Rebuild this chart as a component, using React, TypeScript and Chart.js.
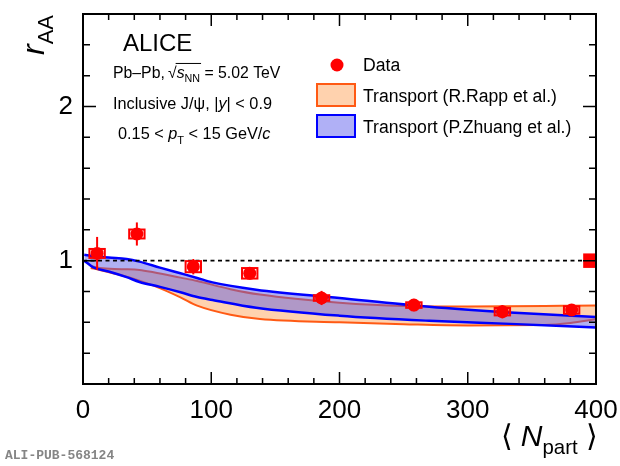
import { useEffect, useRef } from 'react';
import { Chart, registerables } from 'chart.js';

Chart.register(...registerables);

// ALICE inclusive J/psi r_AA vs <Npart>
const dataNpart = [11, 42, 86, 130, 186, 258, 327, 381];
const dataR = [1.047, 1.173, 0.961, 0.918, 0.758, 0.712, 0.669, 0.68];
const dataStat = [0.107, 0.075, 0.05, 0.04, 0.046, 0.04, 0.043, 0.033];
const dataSyst = [0.029, 0.029, 0.036, 0.034, 0.018, 0.018, 0.024, 0.024];

// global (correlated) uncertainty drawn at the right edge
const globalNpart = 395;
const globalUnc = 0.047;

// transport model bands
const rappNpart = [6, 13, 30, 44, 55, 76, 89, 115, 138, 200, 250, 300, 360, 380, 400];
const rappHigh = [0.965, 0.952, 0.945, 0.94, 0.925, 0.89, 0.868, 0.815, 0.78, 0.727, 0.706, 0.703, 0.706, 0.708, 0.71];
const rappLow = [0.953, 0.94, 0.905, 0.87, 0.838, 0.762, 0.708, 0.649, 0.621, 0.6, 0.588, 0.58, 0.582, 0.595, 0.62];

const zhuangNpart = [1, 8, 20, 34, 44, 60, 76, 89, 101, 135, 200, 270, 333, 400];
const zhuangHigh = [1.038, 1.03, 1.02, 1.011, 0.994, 0.955, 0.918, 0.888, 0.859, 0.812, 0.758, 0.701, 0.664, 0.634];
const zhuangLow = [1.0, 0.957, 0.93, 0.893, 0.862, 0.83, 0.795, 0.764, 0.745, 0.695, 0.643, 0.61, 0.59, 0.567];

const unity = 1;

// axes
const xRange = [0, 400];
const yRange = [0.2, 2.6];
const xTickLabels = [0, 100, 200, 300, 400];
const yTickLabels = [1, 2];
const xMinorStep = 20;
const yMinorStep = 0.2;

const FONT = '"Liberation Sans", Arial, Helvetica, sans-serif';
const RED = '#ff0000';
const ORANGE = '#ff5a14';
const ORANGE_FILL = '#ffd2ae';
const BLUE = '#0000ff';
const BLUE_FILL = 'rgba(88, 88, 228, 0.47)';
const BOX_HALF = 6; // in Npart units

type Part = [string, string?];

function drawParts(ctx: CanvasRenderingContext2D, x: number, y: number, parts: Part[], size: number) {
  let cx = x;
  for (const [t, s = ''] of parts) {
    const sub = s.startsWith('sub');
    const it = s === 'i' || s === 'subi';
    const fs = sub ? size * 0.68 : size;
    ctx.font = `${it ? 'italic ' : ''}${fs}px ${FONT}`;
    ctx.fillText(t, cx, sub ? y + size * 0.28 : y);
    cx += ctx.measureText(t).width;
  }
  return cx;
}

function partsWidth(ctx: CanvasRenderingContext2D, parts: Part[], size: number) {
  let w = 0;
  for (const [t, s = ''] of parts) {
    const sub = s.startsWith('sub');
    const it = s === 'i' || s === 'subi';
    ctx.font = `${it ? 'italic ' : ''}${sub ? size * 0.68 : size}px ${FONT}`;
    w += ctx.measureText(t).width;
  }
  return w;
}

const overlay = {
  id: 'overlay',
  afterDatasetsDraw(chart: any) {
    const { ctx, scales: { x, y } } = chart;
    ctx.save();
    ctx.strokeStyle = RED;
    ctx.lineWidth = 2;
    dataNpart.forEach((n, i) => {
      const px = x.getPixelForValue(n);
      ctx.beginPath();
      ctx.moveTo(px, y.getPixelForValue(dataR[i] + dataStat[i]));
      ctx.lineTo(px, y.getPixelForValue(dataR[i] - dataStat[i]));
      ctx.stroke();
      const x0 = x.getPixelForValue(n - BOX_HALF);
      const x1 = x.getPixelForValue(n + BOX_HALF);
      const y0 = y.getPixelForValue(dataR[i] + dataSyst[i]);
      const y1 = y.getPixelForValue(dataR[i] - dataSyst[i]);
      ctx.strokeRect(x0, y0, x1 - x0, y1 - y0);
    });
    ctx.fillStyle = RED;
    const gx0 = x.getPixelForValue(globalNpart - 5);
    const gx1 = x.getPixelForValue(xRange[1]);
    const gy0 = y.getPixelForValue(unity + globalUnc);
    const gy1 = y.getPixelForValue(unity - globalUnc);
    ctx.fillRect(gx0, gy0, gx1 - gx0, gy1 - gy0);
    ctx.restore();
  },
  afterDraw(chart: any) {
    const { ctx, chartArea: a, scales: { x, y } } = chart;
    ctx.save();
    ctx.strokeStyle = '#000';
    ctx.lineWidth = 2;
    ctx.strokeRect(a.left, a.top, a.right - a.left, a.bottom - a.top);
    ctx.lineWidth = 1.5;
    ctx.beginPath();
    for (let v = xRange[0]; v <= xRange[1] + 1e-6; v += xMinorStep) {
      const px = x.getPixelForValue(v);
      const len = xTickLabels.includes(v) ? 12 : 6;
      ctx.moveTo(px, a.bottom);
      ctx.lineTo(px, a.bottom - len);
      ctx.moveTo(px, a.top);
      ctx.lineTo(px, a.top + len);
    }
    for (let k = 0; k <= Math.round((yRange[1] - yRange[0]) / yMinorStep); k++) {
      const v = +(yRange[0] + k * yMinorStep).toFixed(2);
      const py = y.getPixelForValue(v);
      const len = yTickLabels.includes(v) ? 13 : 7;
      ctx.moveTo(a.left, py);
      ctx.lineTo(a.left + len, py);
      ctx.moveTo(a.right, py);
      ctx.lineTo(a.right - len, py);
    }
    ctx.stroke();

    // tick labels
    ctx.fillStyle = '#000';
    ctx.font = `26px ${FONT}`;
    ctx.textAlign = 'center';
    ctx.textBaseline = 'alphabetic';
    xTickLabels.forEach((v) => ctx.fillText(String(v), x.getPixelForValue(v), a.bottom + 34));
    ctx.textAlign = 'right';
    ctx.textBaseline = 'middle';
    yTickLabels.forEach((v) => ctx.fillText(String(v), a.left - 10, y.getPixelForValue(v)));
    ctx.textAlign = 'left';
    ctx.textBaseline = 'alphabetic';

    // x title
    const xt: Part[] = [['\u27e8 '], ['N', 'i'], ['part', 'sub'], [' \u27e9']];
    const w = partsWidth(ctx, xt, 30);
    drawParts(ctx, a.right + 2 - w, a.bottom + 62, xt, 30);

    // y title (rotated)
    ctx.save();
    ctx.translate(44, 55);
    ctx.rotate(-Math.PI / 2);
    drawParts(ctx, 0, 0, [['r', 'i'], ['AA', 'sub']], 32);
    ctx.restore();

    // labels
    ctx.font = `24px ${FONT}`;
    ctx.fillText('ALICE', 123, 51);
    const s1 = 15.8;
    let cx = drawParts(ctx, 113, 78, [['Pb\u2013Pb,\u2009'], ['\u221a']], s1);
    const ox = cx;
    cx = drawParts(ctx, cx, 78, [['s', 'i'], ['NN', 'sub']], s1);
    ctx.lineWidth = 1;
    ctx.beginPath();
    ctx.moveTo(ox - 1, 78 - s1 * 0.92);
    ctx.lineTo(cx + 1, 78 - s1 * 0.92);
    ctx.stroke();
    drawParts(ctx, cx, 78, [[' = 5.02 TeV']], s1);
    const s = 16.3;
    drawParts(ctx, 113, 109, [['Inclusive J/\u03c8, |'], ['y', 'i'], ['| < 0.9']], s);
    drawParts(ctx, 118, 139, [['0.15 < '], ['p', 'i'], ['T', 'sub'], [' < 15 GeV/'], ['c', 'i']], s);

    // legend
    ctx.fillStyle = RED;
    ctx.beginPath();
    ctx.arc(337, 65, 6.5, 0, Math.PI * 2);
    ctx.fill();
    ctx.lineWidth = 2;
    ctx.fillStyle = ORANGE_FILL;
    ctx.strokeStyle = ORANGE;
    ctx.fillRect(317, 84, 38, 22);
    ctx.strokeRect(317, 84, 38, 22);
    ctx.fillStyle = '#b0b0f6';
    ctx.strokeStyle = BLUE;
    ctx.fillRect(317, 115, 38, 22);
    ctx.strokeRect(317, 115, 38, 22);
    ctx.fillStyle = '#000';
    ctx.font = `17.6px ${FONT}`;
    ctx.fillText('Data', 363, 71);
    ctx.fillText('Transport (R.Rapp et al.)', 363, 102);
    ctx.fillText('Transport (P.Zhuang et al.)', 363, 133);

    // publication id
    ctx.fillStyle = '#858585';
    ctx.font = `bold 13px "Liberation Mono", "DejaVu Sans Mono", monospace`;
    ctx.fillText('ALI-PUB-568124', 5, 459);
    ctx.restore();
  },
};

function ChartView() {
  const chartRef = useRef<HTMLCanvasElement>(null);

  useEffect(() => {
    if (!chartRef.current) return;
    const ctx = chartRef.current.getContext('2d');
    if (!ctx) return;

    const pts = (xs: number[], ys: number[]) => xs.map((v, i) => ({ x: v, y: ys[i] }));
    const band = { pointRadius: 0, borderWidth: 2, tension: 0.4, cubicInterpolationMode: 'monotone' as const };

    const chart = new Chart(ctx, {
      type: 'line',
      data: {
        datasets: [
          { ...band, data: pts(rappNpart, rappHigh), borderColor: ORANGE, fill: false, order: 5 },
          { ...band, data: pts(rappNpart, rappLow), borderColor: ORANGE, backgroundColor: ORANGE_FILL, fill: '-1', order: 5 },
          { ...band, data: pts(zhuangNpart, zhuangHigh), borderColor: BLUE, borderWidth: 2.5, fill: false, order: 3 },
          { ...band, data: pts(zhuangNpart, zhuangLow), borderColor: BLUE, borderWidth: 2.5, backgroundColor: BLUE_FILL, fill: '-1', order: 3 },
          {
            data: [{ x: xRange[0], y: unity }, { x: xRange[1], y: unity }],
            borderColor: '#000', borderWidth: 1.8, borderDash: [4, 3.5], pointRadius: 0, fill: false, order: 2,
          },
          {
            data: pts(dataNpart, dataR), showLine: false, pointRadius: 6.5, pointBorderWidth: 0,
            pointBackgroundColor: RED, borderColor: RED, order: 1,
          },
        ],
      },
      options: {
        animation: false,
        responsive: true,
        maintainAspectRatio: false,
        layout: { padding: { left: 83, right: 24, top: 14, bottom: 82 } },
        plugins: { legend: { display: false }, tooltip: { enabled: false } },
        scales: {
          x: { type: 'linear', min: xRange[0], max: xRange[1], display: false },
          y: { type: 'linear', min: yRange[0], max: yRange[1], display: false },
        },
      },
      plugins: [overlay],
    });

    return () => chart.destroy();
  }, []);

  return <canvas ref={chartRef} />;
}

export default function App() {
  return (
    <div style={{ position: 'absolute', left: 0, top: 0, width: 620, height: 466, background: '#fff' }}>
      <ChartView />
    </div>
  );
}
